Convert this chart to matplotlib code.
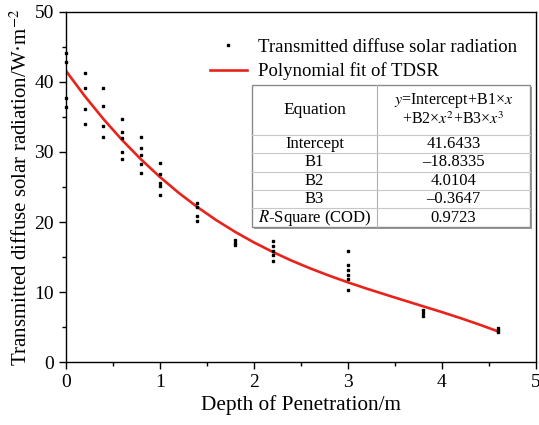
import numpy as np
import matplotlib
matplotlib.use('Agg')
from matplotlib import pyplot as plt
from matplotlib.ticker import MultipleLocator

plt.rcParams['font.family'] = ['Liberation Serif', 'DejaVu Serif']
plt.rcParams['mathtext.fontset'] = 'stix'

# measured points: depth (m) -> transmitted diffuse solar radiation (W/m2)
depth = [0.0, 0.2, 0.4, 0.6, 0.8, 1.0, 1.4, 1.8, 2.2, 3.0, 3.8, 4.6]
tdsr = [
    [44.2, 42.9, 37.7, 36.4],
    [41.3, 39.1, 36.1, 34.0],
    [39.1, 36.6, 33.7, 32.2],
    [34.7, 32.8, 32.0, 30.0, 29.0],
    [32.2, 30.6, 29.5, 28.3, 27.0],
    [28.4, 26.8, 25.5, 25.2, 23.8],
    [22.7, 22.2, 20.8, 20.2],
    [17.4, 17.0, 16.7],
    [17.3, 16.6, 15.9, 15.3, 14.5],
    [15.9, 13.8, 13.2, 12.5, 11.9, 10.3],
    [7.4, 7.0, 6.6],
    [4.9, 4.6, 4.3],
]

# fitted curve
fit_x = [0.0, 0.2, 0.4, 0.6, 0.8, 1.0, 1.2, 1.4, 1.6, 1.8, 2.0, 2.2,
         2.4, 2.6, 2.8, 3.0, 3.2, 3.4, 3.6, 3.8, 4.0, 4.2, 4.4, 4.6]
fit_y = [41.64, 38.03, 34.73, 31.71, 28.96, 26.46, 24.19, 22.14, 20.28, 18.61, 17.10, 15.74,
         14.50, 13.38, 12.35, 11.39, 10.49, 9.64, 8.80, 7.97, 7.14, 6.27, 5.35, 4.37]

table_names = ['Intercept', 'B1', 'B2', 'B3', '$R$-Square (COD)']
table_values = ['41.6433', '\u201318.8335', '4.0104', '\u20130.3647', '0.9723']

fig = plt.figure(figsize=(5.39, 4.25), dpi=100)
ax = fig.add_axes([0.1219, 0.1482, 0.8720, 0.8236])

xs = []
ys = []
for d, vals in zip(depth, tdsr):
    xs += [d] * len(vals)
    ys += vals

ax.plot(xs, ys, linestyle='none', marker='s', markersize=1.7, color='black',
        label='Transmitted diffuse solar radiation', clip_on=False, zorder=3)
ax.plot(fit_x, fit_y, color='#e8231c', linewidth=1.9, label='Polynomial fit of TDSR', zorder=2)

ax.set_xlim(0, 5)
ax.set_ylim(0, 50)
ax.xaxis.set_major_locator(MultipleLocator(1))
ax.xaxis.set_minor_locator(MultipleLocator(0.5))
ax.yaxis.set_major_locator(MultipleLocator(10))
ax.yaxis.set_minor_locator(MultipleLocator(5))
ax.tick_params(which='major', direction='out', length=5, width=1, labelsize=14)
ax.tick_params(which='minor', direction='out', length=3, width=1)
for s in ax.spines.values():
    s.set_linewidth(1.0)

ax.set_xlabel('Depth of Penetration/m', fontsize=15.3, labelpad=3)
ax.set_ylabel('Transmitted diffuse solar radiation/W\u00b7m$^{-2}$', fontsize=15, labelpad=2)

ax.legend(loc='upper left', bbox_to_anchor=(0.29, 0.945), frameon=False, fontsize=13.5,
          handlelength=2.0, handletextpad=0.6, labelspacing=0.35, borderaxespad=0,
          markerscale=1.0)

# parameter table
x0, x1, xm = 0.397, 0.988, 0.662
ytop, yhead, ybot = 0.791, 0.649, 0.386
rh = (yhead - ybot) / len(table_names)
tr = ax.transAxes
ax.add_patch(plt.Rectangle((x0 + 0.004, ybot - 0.006), x1 - x0, ytop - ybot, transform=tr,
                           facecolor='#9a9a9a', edgecolor='none', zorder=4))
ax.add_patch(plt.Rectangle((x0, ybot), x1 - x0, ytop - ybot, transform=tr,
                           facecolor='white', edgecolor='#8a8a8a', linewidth=1.0, zorder=5))
ax.plot([xm, xm], [ybot, ytop], transform=tr, color='#b0b0b0', lw=0.8, zorder=6)
for i in range(len(table_names)):
    yl = yhead - i * rh
    ax.plot([x0, x1], [yl, yl], transform=tr, color='#c8c8c8', lw=0.8, zorder=6)
ax.text((x0 + xm) / 2, (ytop + yhead) / 2, 'Equation', transform=tr, ha='center', va='center',
        fontsize=12.5, zorder=7)
ax.text((xm + x1) / 2, (ytop + yhead) / 2 + 0.028, '$y$=Intercept+B1\u00d7$x$', transform=tr,
        ha='center', va='center', fontsize=11.5, zorder=7)
ax.text((xm + x1) / 2, (ytop + yhead) / 2 - 0.028, '+B2\u00d7$x^2$+B3\u00d7$x^3$', transform=tr,
        ha='center', va='center', fontsize=11.5, zorder=7)
for i, (n, v) in enumerate(zip(table_names, table_values)):
    yc = yhead - (i + 0.5) * rh
    ax.text((x0 + xm) / 2, yc, n, transform=tr, ha='center', va='center', fontsize=12, zorder=7)
    ax.text((xm + x1) / 2, yc, v, transform=tr, ha='center', va='center', fontsize=12, zorder=7)

fig.savefig('out.png', dpi=100)
